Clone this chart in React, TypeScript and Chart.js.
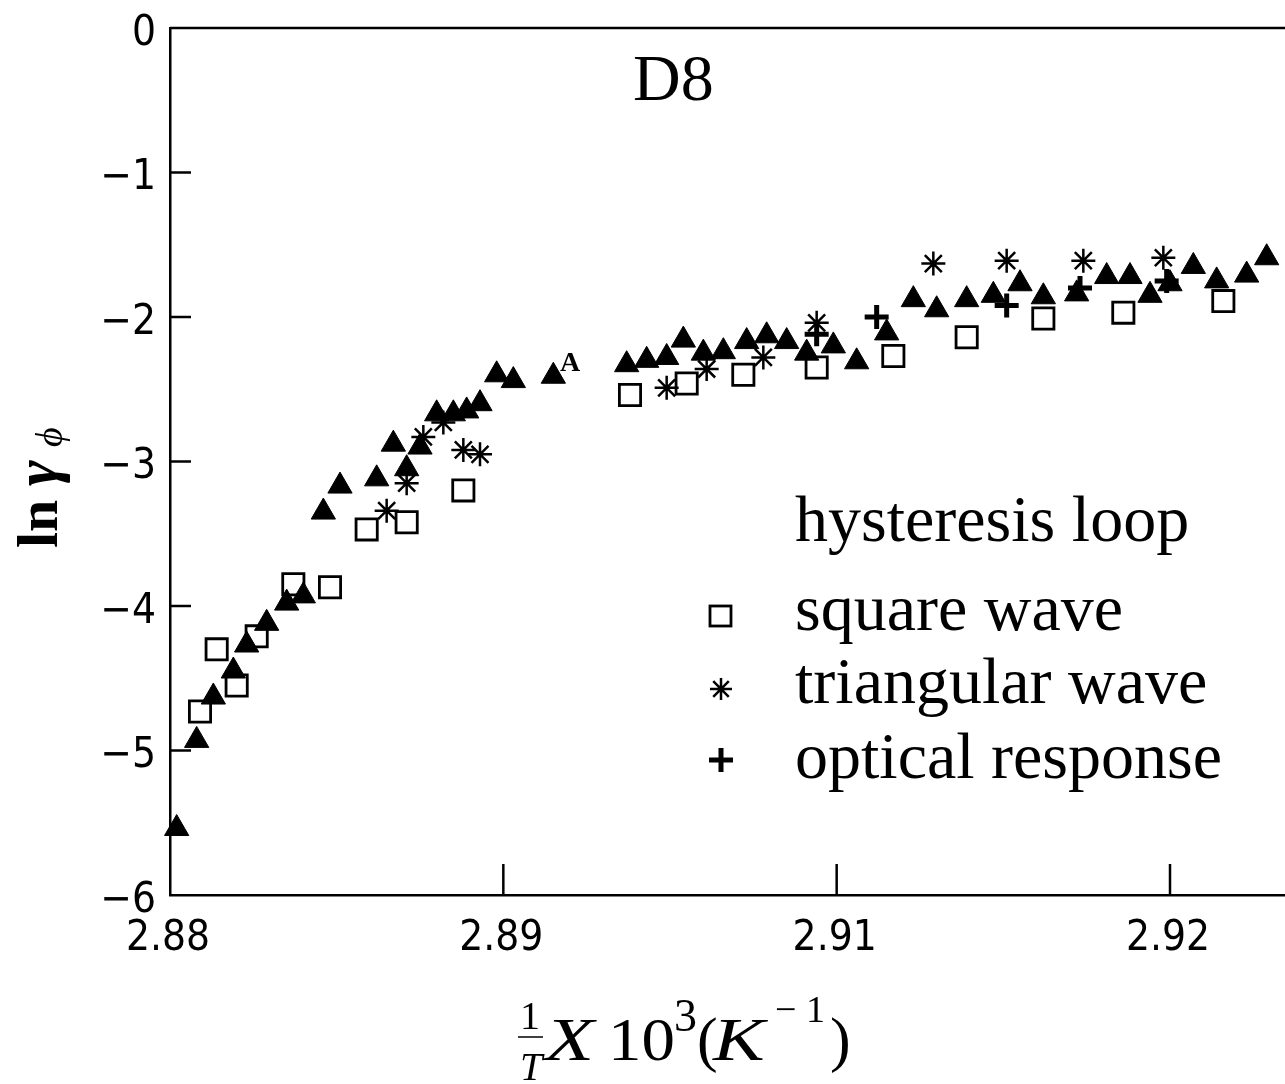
import React, { useEffect, useRef } from "react";
import { Chart, registerables } from "chart.js";

Chart.register(...registerables);

// ---- axis ticks ----
const X_TICK_VALUES = [2.88, 2.89, 2.9, 2.91];
const X_TICK_LABELS = ["2.88", "2.89", "2.91", "2.92"];
const Y_TICK_VALUES = [0, -1, -2, -3, -4, -5, -6];

// ---- hysteresis loop (filled triangles) ----
const hysteresisX = [
  2.8802, 2.8808, 2.8813, 2.8819, 2.8823, 2.8829, 2.8835, 2.884, 2.8846, 2.8851,
  2.8862, 2.8867, 2.8871, 2.8875, 2.888, 2.8885, 2.8889, 2.8893, 2.8898, 2.8903,
  2.8915, 2.8937, 2.8943, 2.8949, 2.8954, 2.896, 2.8966, 2.8973, 2.8979, 2.8985,
  2.8991, 2.8999, 2.9006, 2.9015, 2.9023, 2.903, 2.9039, 2.9047, 2.9055, 2.9062,
  2.9072, 2.9081, 2.9088, 2.9094, 2.91, 2.9107, 2.9114, 2.9123, 2.9129,
];
const hysteresisY = [
  -5.54, -4.93, -4.63, -4.45, -4.27, -4.12, -3.98, -3.93, -3.35, -3.17,
  -3.12, -2.88, -3.05, -2.9, -2.67, -2.67, -2.65, -2.6, -2.4, -2.44,
  -2.41, -2.33, -2.3, -2.28, -2.16, -2.25, -2.24, -2.17, -2.13, -2.17,
  -2.25, -2.2, -2.31, -2.11, -1.88, -1.95, -1.88, -1.85, -1.77, -1.86,
  -1.84, -1.72, -1.72, -1.85, -1.77, -1.65, -1.75, -1.71, -1.59,
];

// ---- square wave (open squares) ----
const squareX = [
  2.8809, 2.8814, 2.882, 2.8826, 2.8837, 2.8848, 2.8859, 2.8871, 2.8888,
  2.8938, 2.8955, 2.8972, 2.8994, 2.9017, 2.9039, 2.9062, 2.9086, 2.9116,
];
const squareY = [
  -4.73, -4.3, -4.55, -4.21, -3.85, -3.87, -3.47, -3.42, -3.2,
  -2.54, -2.46, -2.4, -2.35, -2.27, -2.14, -2.01, -1.97, -1.89,
];

// ---- triangular wave (asterisks) ----
const triangularX = [
  2.8865, 2.8871, 2.8876, 2.8882, 2.8888, 2.8893, 2.8949, 2.8961, 2.8978,
  2.8994, 2.9029, 2.9051, 2.9074, 2.9098,
];
const triangularY = [
  -3.34, -3.15, -2.83, -2.73, -2.92, -2.95, -2.49, -2.36, -2.28,
  -2.04, -1.63, -1.61, -1.61, -1.59,
];

// ---- optical response (plus) ----
const opticalX = [2.8994, 2.9012, 2.9051, 2.9073, 2.9099];
const opticalY = [-2.12, -2.0, -1.92, -1.8, -1.75];

const PANEL_LABEL = "D8";
const LEGEND_TITLE = "hysteresis loop";
const LEGEND_ITEMS = ["square wave", "triangular wave", "optical response"];

const toPoints = (xs: number[], ys: number[]) => xs.map((x, i) => ({ x, y: ys[i] }));

const SERIF = "'Liberation Serif', 'Times New Roman', serif";
const NARROW = "'Liberation Sans Narrow', 'DejaVu Sans Condensed', sans-serif";

function scaledText(ctx: CanvasRenderingContext2D, text: string, x: number, y: number, sx: number) {
  ctx.save();
  ctx.translate(x, y);
  ctx.scale(sx, 1);
  ctx.fillText(text, 0, 0);
  ctx.restore();
}

const decorPlugin = {
  id: "decor",
  afterDraw(chart: any) {
    const ctx: CanvasRenderingContext2D = chart.ctx;
    const { left, right, top, bottom } = chart.chartArea;
    const xs = chart.scales.x;
    const ys = chart.scales.y;
    ctx.save();
    ctx.strokeStyle = "#000";
    ctx.fillStyle = "#000";
    ctx.lineWidth = 2.5;
    ctx.lineCap = "butt";
    // top frame line
    ctx.beginPath();
    ctx.moveTo(left, top);
    ctx.lineTo(right, top);
    ctx.stroke();
    // inward y ticks
    Y_TICK_VALUES.forEach((v) => {
      if (v === 0 || v === -6) return;
      const y = ys.getPixelForValue(v);
      ctx.beginPath();
      ctx.moveTo(left, y);
      ctx.lineTo(left + 21, y);
      ctx.stroke();
    });
    // inward x ticks
    X_TICK_VALUES.forEach((v, i) => {
      if (i === 0) return;
      const x = xs.getPixelForValue(v);
      ctx.beginPath();
      ctx.moveTo(x, bottom);
      ctx.lineTo(x, bottom - 31);
      ctx.stroke();
    });

    ctx.textBaseline = "alphabetic";
    ctx.textAlign = "left";
    // panel label
    ctx.font = `66px ${SERIF}`;
    ctx.fillText(PANEL_LABEL, 633, 100);

    // stray "A" label
    ctx.font = `bold 28px ${SERIF}`;
    ctx.fillText("A", 560, 371);

    // legend
    ctx.font = `66px ${SERIF}`;
    ctx.fillText(LEGEND_TITLE, 795, 541);
    const baselines = [630, 703, 778];
    LEGEND_ITEMS.forEach((t, i) => ctx.fillText(t, 795, baselines[i]));
    // legend markers
    ctx.lineWidth = 2.8;
    ctx.strokeRect(710, 606, 21, 20);
    const ax = 721, ay = 689, ar = 11;
    ctx.lineWidth = 2.5;
    ctx.beginPath();
    for (let k = 0; k < 4; k++) {
      const a = (k * Math.PI) / 4;
      ctx.moveTo(ax + Math.sin(a) * ar, ay - Math.cos(a) * ar);
      ctx.lineTo(ax - Math.sin(a) * ar, ay + Math.cos(a) * ar);
    }
    ctx.stroke();
    ctx.lineWidth = 5;
    ctx.beginPath();
    ctx.moveTo(721, 748);
    ctx.lineTo(721, 772);
    ctx.moveTo(709, 760);
    ctx.lineTo(733, 760);
    ctx.stroke();

    // y-axis title: ln γϕ
    ctx.save();
    ctx.translate(57, 548);
    ctx.rotate(-Math.PI / 2);
    ctx.font = `bold 58px ${SERIF}`;
    ctx.fillText("ln", 0, 0);
    ctx.font = `bold italic 62px ${SERIF}`;
    ctx.fillText("γ", 62, 0);
    ctx.font = `italic 38px ${SERIF}`;
    ctx.fillText("ϕ", 101, 5);
    ctx.restore();

    // x-axis title: 1/T X10^3 (K^-1)
    ctx.textAlign = "center";
    ctx.font = `40px ${SERIF}`;
    ctx.fillText("1", 530, 1029);
    ctx.font = `italic 40px ${SERIF}`;
    ctx.fillText("T", 531, 1080);
    ctx.lineWidth = 1.5;
    ctx.beginPath();
    ctx.moveTo(518, 1037);
    ctx.lineTo(543, 1037);
    ctx.stroke();
    ctx.textAlign = "left";
    ctx.font = `italic 62px ${SERIF}`;
    scaledText(ctx, "X", 545, 1060, 1.3);
    ctx.font = `62px ${SERIF}`;
    scaledText(ctx, "10", 608, 1060, 1.08);
    ctx.font = `46px ${SERIF}`;
    ctx.fillText("3", 674, 1031);
    ctx.font = `62px ${SERIF}`;
    ctx.fillText("(", 697, 1060);
    ctx.font = `italic 62px ${SERIF}`;
    scaledText(ctx, "K", 713, 1060, 1.25);
    ctx.font = `38px ${SERIF}`;
    ctx.fillText("\u2212", 775, 1022);
    ctx.fillText("1", 806, 1022);
    ctx.font = `62px ${SERIF}`;
    ctx.fillText(")", 830, 1060);
    ctx.restore();
  },
};

export default function App() {
  const ref = useRef<HTMLCanvasElement | null>(null);
  useEffect(() => {
    if (!ref.current) return;
    const chart = new Chart(ref.current, {
      type: "scatter",
      data: {
        datasets: [
          {
            label: "hysteresis loop",
            data: toPoints(hysteresisX, hysteresisY),
            pointStyle: "triangle",
            pointRadius: 14,
            backgroundColor: "#000",
            borderColor: "#000",
            borderWidth: 1,
            clip: false,
          },
          {
            label: "square wave",
            data: toPoints(squareX, squareY),
            pointStyle: "rect",
            pointRadius: 15,
            backgroundColor: "rgba(0,0,0,0)",
            borderColor: "#000",
            borderWidth: 2.8,
            clip: false,
          },
          {
            label: "triangular wave",
            data: toPoints(triangularX, triangularY),
            pointStyle: "star",
            pointRadius: 12,
            backgroundColor: "rgba(0,0,0,0)",
            borderColor: "#000",
            borderWidth: 2.5,
            clip: false,
          },
          {
            label: "optical response",
            data: toPoints(opticalX, opticalY),
            pointStyle: "cross",
            pointRadius: 12,
            backgroundColor: "rgba(0,0,0,0)",
            borderColor: "#000",
            borderWidth: 5,
            clip: false,
          },
        ] as any,
      },
      options: {
        animation: false,
        responsive: false,
        devicePixelRatio: 1,
        layout: { autoPadding: false, padding: { top: 28, left: 0, right: 0, bottom: 0 } },
        plugins: { legend: { display: false }, tooltip: { enabled: false } },
        elements: { point: { hoverRadius: 14 } },
        scales: {
          x: {
            type: "linear",
            min: 2.88,
            max: 2.91345,
            afterFit: (s: any) => {
              s.height = 189;
              s.paddingLeft = 0;
              s.paddingRight = 0;
              s.paddingTop = 0;
              s.paddingBottom = 0;
            },
            afterBuildTicks: (s: any) => {
              s.ticks = X_TICK_VALUES.map((v) => ({ value: v }));
            },
            grid: { display: false, drawTicks: false },
            border: { display: true, color: "#000", width: 2.5 },
            ticks: {
              autoSkip: false,
              maxRotation: 0,
              padding: 19,
              labelOffset: -2,
              color: "#000",
              font: { family: NARROW, size: 42, lineHeight: 1.2 },
              callback: (_v: any, i: number) => X_TICK_LABELS[i],
            },
          },
          y: {
            type: "linear",
            min: -6,
            max: 0,
            afterFit: (s: any) => {
              s.width = 170;
              s.paddingLeft = 0;
              s.paddingRight = 0;
              s.paddingTop = 0;
              s.paddingBottom = 0;
            },
            afterBuildTicks: (s: any) => {
              s.ticks = Y_TICK_VALUES.map((v) => ({ value: v }));
            },
            grid: { display: false, drawTicks: false },
            border: { display: true, color: "#000", width: 2.5 },
            ticks: {
              autoSkip: false,
              padding: 14,
              labelOffset: 6,
              color: "#000",
              font: { family: NARROW, size: 42, lineHeight: 1.2 },
              callback: (v: any) => (v === 0 ? "0" : "\u2212" + Math.abs(v)),
            },
          },
        },
      } as any,
      plugins: [decorPlugin],
    });
    return () => chart.destroy();
  }, []);
  return (
    <div style={{ position: "absolute", left: 0, top: 0, width: 1285, height: 1084, background: "#fff" }}>
      <canvas ref={ref} width={1285} height={1084} style={{ display: "block" }} />
    </div>
  );
}
